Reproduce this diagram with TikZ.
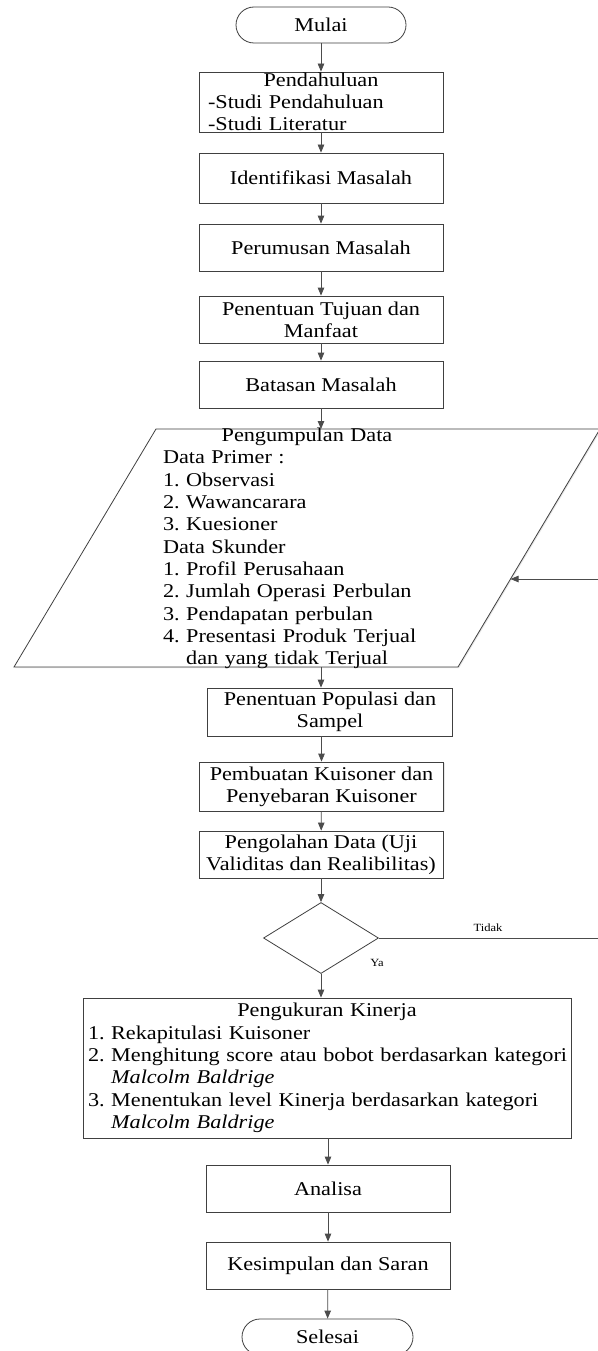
\documentclass[tikz,border=0pt]{standalone}
\usepackage{fontspec}
\setmainfont{Liberation Serif}[FakeStretch=1.14]
\usetikzlibrary{shapes.geometric,arrows.meta,shadows}
\frenchspacing
\newcommand\teks{\fontsize{19.5pt}{22.3pt}\selectfont}
\newcommand\kecil{\fontsize{11pt}{13pt}\selectfont}
\newcommand\kiri[1]{\makebox[\linewidth][l]{#1}}
\colorlet{garis}{black!75}
\tikzset{
  bayang/.style={drop shadow={shadow xshift=1pt,shadow yshift=-1.2pt,fill=black!18}},
  kotak/.style={draw=garis,line width=0.8pt,fill=white,bayang,font=\teks,
    minimum width=244pt,minimum height=47pt,inner sep=0pt,align=center},
  terminal/.style={draw=garis,line width=0.8pt,fill=white,font=\teks,rounded corners=18pt,
    minimum width=170pt,minimum height=36pt,inner sep=0pt},
  keputusan/.style={draw=garis,line width=0.8pt,fill=white,diamond,
    minimum width=115pt,minimum height=71pt,inner sep=0pt},
  teksdata/.style={font=\teks,inner sep=0pt,align=center,text width=288pt},
  panah/.style={draw=black!70,line width=0.8pt,-{Triangle[length=8pt,width=6.5pt]}},
  ket/.style={font=\kecil,inner sep=0pt}
}
\begin{document}
\begin{tikzpicture}[x=1pt,y=-1pt]
\useasboundingbox (0,0) rectangle (597,1351);
\fill[white] (0,0) rectangle (597,1351);
% alur atas
\node[terminal] (mulai) at (321,25) {Mulai};
\node[kotak,minimum height=60pt,text width=226pt] (pendahuluan) at (321,102)
  {Pendahuluan\\ \kiri{-Studi Pendahuluan}\\ \kiri{-Studi Literatur}};
\node[kotak,minimum height=50pt] (identifikasi) at (321,178) {Identifikasi Masalah};
\node[kotak] (perumusan) at (321,247.5) {Perumusan Masalah};
\node[kotak] (tujuan) at (321,319.5) {Penentuan Tujuan dan\\ Manfaat};
\node[kotak] (batasan) at (321,384.5) {Batasan Masalah};
% jajaran genjang pengumpulan data
\coordinate (jTL) at (156,429);
\coordinate (jTR) at (600,429);
\coordinate (jBR) at (458,667);
\coordinate (jBL) at (14,667);
\coordinate (masuk) at (510.5,579);
\draw[draw=garis,line width=0.8pt,fill=white,bayang] (jTL) -- (jTR) -- (jBR) -- (jBL) -- cycle;
\node[teksdata] (data) at (307,548.5)
  {Pengumpulan Data\\ \kiri{Data Primer :}\\ \kiri{1. Observasi}\\ \kiri{2. Wawancarara}\\
   \kiri{3. Kuesioner}\\ \kiri{Data Skunder}\\ \kiri{1. Profil Perusahaan}\\
   \kiri{2. Jumlah Operasi Perbulan}\\ \kiri{3. Pendapatan perbulan}\\
   \kiri{4. Presentasi Produk Terjual}\\ \kiri{\phantom{4.\ }dan yang tidak Terjual}};
% alur tengah
\node[kotak,minimum width=244.5pt,minimum height=48pt] (populasi) at (330,712) {Penentuan Populasi dan\\ Sampel};
\node[kotak,minimum height=49pt] (pembuatan) at (321.5,786.5) {Pembuatan Kuisoner dan\\ Penyebaran Kuisoner};
\node[kotak] (olah) at (321,854.5) {Pengolahan Data (Uji\\ Validitas dan Realibilitas)};
\node[keputusan] (cek) at (321,938) {};
\coordinate (balik) at (604,938);
\node[ket] (tidak) at (488,928) {Tidak};
\node[ket] (ya) at (377,963) {Ya};
% alur bawah
\node[kotak,minimum width=488pt,minimum height=140pt,text width=478pt] (ukur) at (327,1068)
  {Pengukuran Kinerja\\ \kiri{1. Rekapitulasi Kuisoner}\\
   \kiri{\makebox[470pt][s]{2. Menghitung score atau bobot berdasarkan kategori}}\\
   \kiri{\phantom{2.\ }\textit{Malcolm Baldrige}}\\
   \kiri{\makebox[470pt][s]{3. Menentukan level Kinerja berdasarkan kategori}}\\
   \kiri{\phantom{3.\ }\textit{Malcolm Baldrige}}};
\node[kotak] (analisa) at (328,1188.5) {Analisa};
\node[kotak] (kesimpulan) at (328,1265.5) {Kesimpulan dan Saran};
\node[terminal,minimum width=171pt] (selesai) at (327.5,1337) {Selesai};
% panah
\draw[panah] (mulai) -- (pendahuluan);
\draw[panah] (pendahuluan) -- (identifikasi);
\draw[panah] (identifikasi) -- (perumusan);
\draw[panah] (perumusan) -- (tujuan);
\draw[panah] (tujuan) -- (batasan);
\draw[panah] (batasan) -- (batasan.south |- jTL);
\draw[panah] (batasan.south |- jBL) -- (batasan.south |- populasi.north);
\draw[panah] (pembuatan.north |- populasi.south) -- (pembuatan.north);
\draw[panah] (pembuatan) -- (olah);
\draw[panah] (olah) -- (cek);
\draw[panah] (cek.south) -- (cek.south |- ukur.north);
\draw[panah] (cek.east) -- (balik) |- (masuk);
\draw[panah] (analisa.north |- ukur.south) -- (analisa.north);
\draw[panah] (analisa) -- (kesimpulan);
\draw[panah] (kesimpulan) -- (selesai);
\end{tikzpicture}
\end{document}
